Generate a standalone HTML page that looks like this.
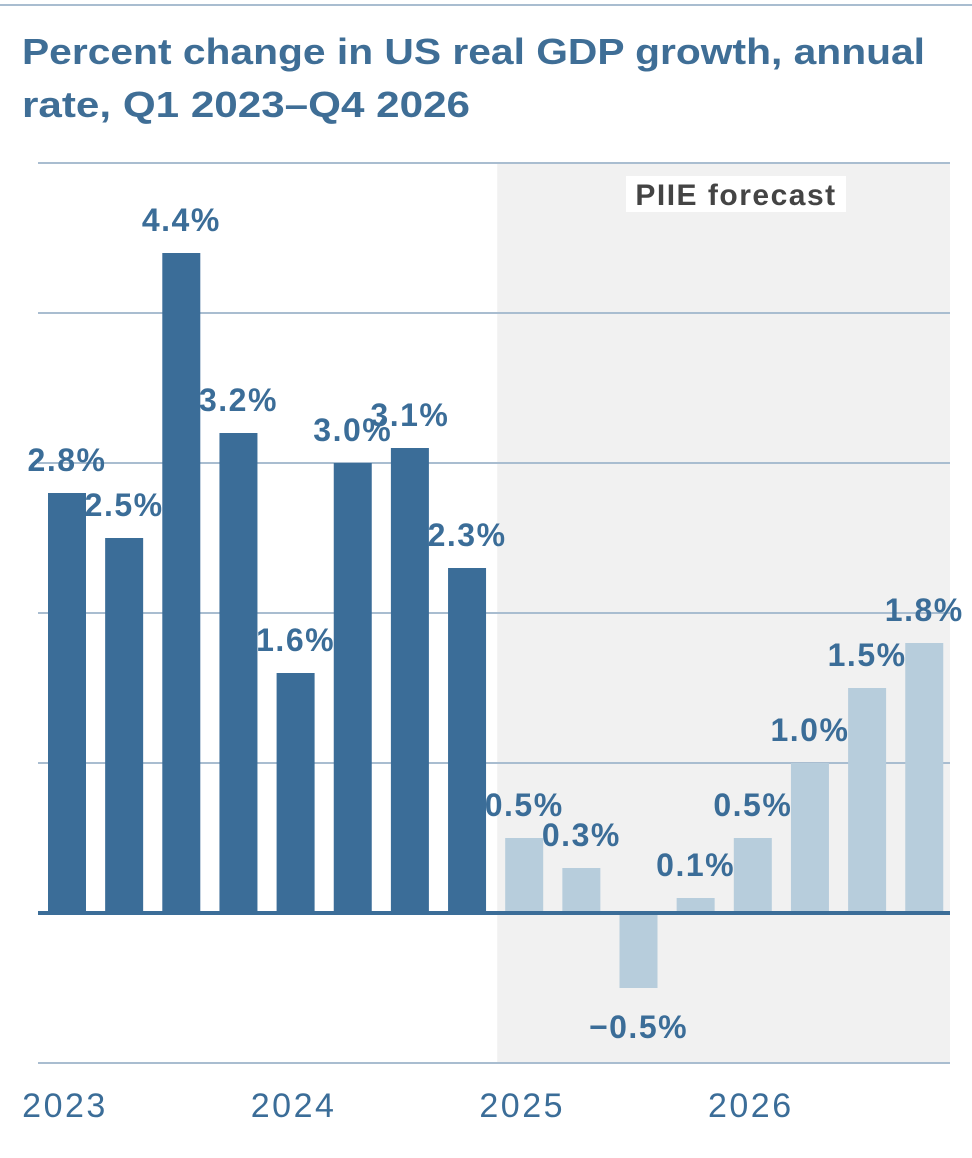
<!DOCTYPE html>
<html><head><meta charset="utf-8"><style>
body{margin:0;background:#fff;width:972px;height:1153px;overflow:hidden;font-family:"Liberation Sans",sans-serif}
</style></head><body>
<svg id="chart" width="972" height="1153" xmlns="http://www.w3.org/2000/svg">
<line x1="0" y1="5" x2="972" y2="5" stroke="#a9bdd0" stroke-width="2"/>
<text x="22" y="64" font-family="Liberation Sans, sans-serif" font-size="36" fill="#3f6e96" font-weight="bold" textLength="903" lengthAdjust="spacingAndGlyphs">Percent change in US real GDP growth, annual</text>
<text x="22" y="117" font-family="Liberation Sans, sans-serif" font-size="36" fill="#3f6e96" font-weight="bold" textLength="448" lengthAdjust="spacingAndGlyphs">rate, Q1 2023–Q4 2026</text>
<g id="plot"></g>
</svg>
<script>
const categories=["Q1 2023","Q2 2023","Q3 2023","Q4 2023","Q1 2024","Q2 2024","Q3 2024","Q4 2024","Q1 2025","Q2 2025","Q3 2025","Q4 2025","Q1 2026","Q2 2026","Q3 2026","Q4 2026"];
const values=[2.8,2.5,4.4,3.2,1.6,3.0,3.1,2.3,0.5,0.3,-0.5,0.1,0.5,1.0,1.5,1.8];
const forecast=[0,0,0,0,0,0,0,0,1,1,1,1,1,1,1,1];
const valueLabels=["2.8%","2.5%","4.4%","3.2%","1.6%","3.0%","3.1%","2.3%","0.5%","0.3%","−0.5%","0.1%","0.5%","1.0%","1.5%","1.8%"];
const yTicks=[-1,0,1,2,3,4,5];
const yearLabels=["2023","2024","2025","2026"];
const yearStartIndex=[0,4,8,12];
const NS="http://www.w3.org/2000/svg";
const g=document.getElementById('plot');
const y=v=>913-v*150;
const x0=48,step=57.15,bw=38;
const bx=i=>x0+i*step;
function el(t,a){const e=document.createElementNS(NS,t);for(const k in a)e.setAttribute(k,a[k]);g.appendChild(e);return e;}
const fIdx=forecast.indexOf(1);
const shade=el('rect',{x:bx(fIdx)-8,y:y(5),width:950-(bx(fIdx)-8),height:y(-1)-y(5),fill:'#f1f1f1'});


yTicks.forEach(t=>{if(t===0)return;const l=el('line',{x1:38,x2:950,y1:y(t),y2:y(t),stroke:'#a9bdd0','stroke-width':2});

});
const fl=el('rect',{x:626,y:176,width:220,height:36,fill:'#fff'});


const ft=el('text',{x:736,y:205,'text-anchor':'middle','font-size':30,'font-weight':'bold',fill:'#444','letter-spacing':1.5});
ft.textContent='PIIE forecast';


values.forEach((v,i)=>{
 const top=Math.min(y(v),y(0)),h=Math.abs(y(v)-y(0));
 const r=el('rect',{x:bx(i),y:top,width:bw,height:h,fill:forecast[i]?'#b7cddc':'#3b6d98'});
 
 
 const ty=v>=0?y(v)-22:y(v)+50;
 const t=el('text',{x:bx(i)+bw/2,y:ty,'text-anchor':'middle','font-size':32,fill:'#3b6d98','font-weight':'bold','letter-spacing':1.5});
 t.textContent=valueLabels[i];
 
 
});
const z=el('line',{x1:38,x2:950,y1:y(0),y2:y(0),stroke:'#3b6d98','stroke-width':4});


yearLabels.forEach((s,k)=>{const t=el('text',{x:bx(yearStartIndex[k])+bw/2-2,y:1117,'text-anchor':'middle','font-size':34,fill:'#3b6d98','letter-spacing':2.5});
t.textContent=s;

});
</script>
</body></html>
